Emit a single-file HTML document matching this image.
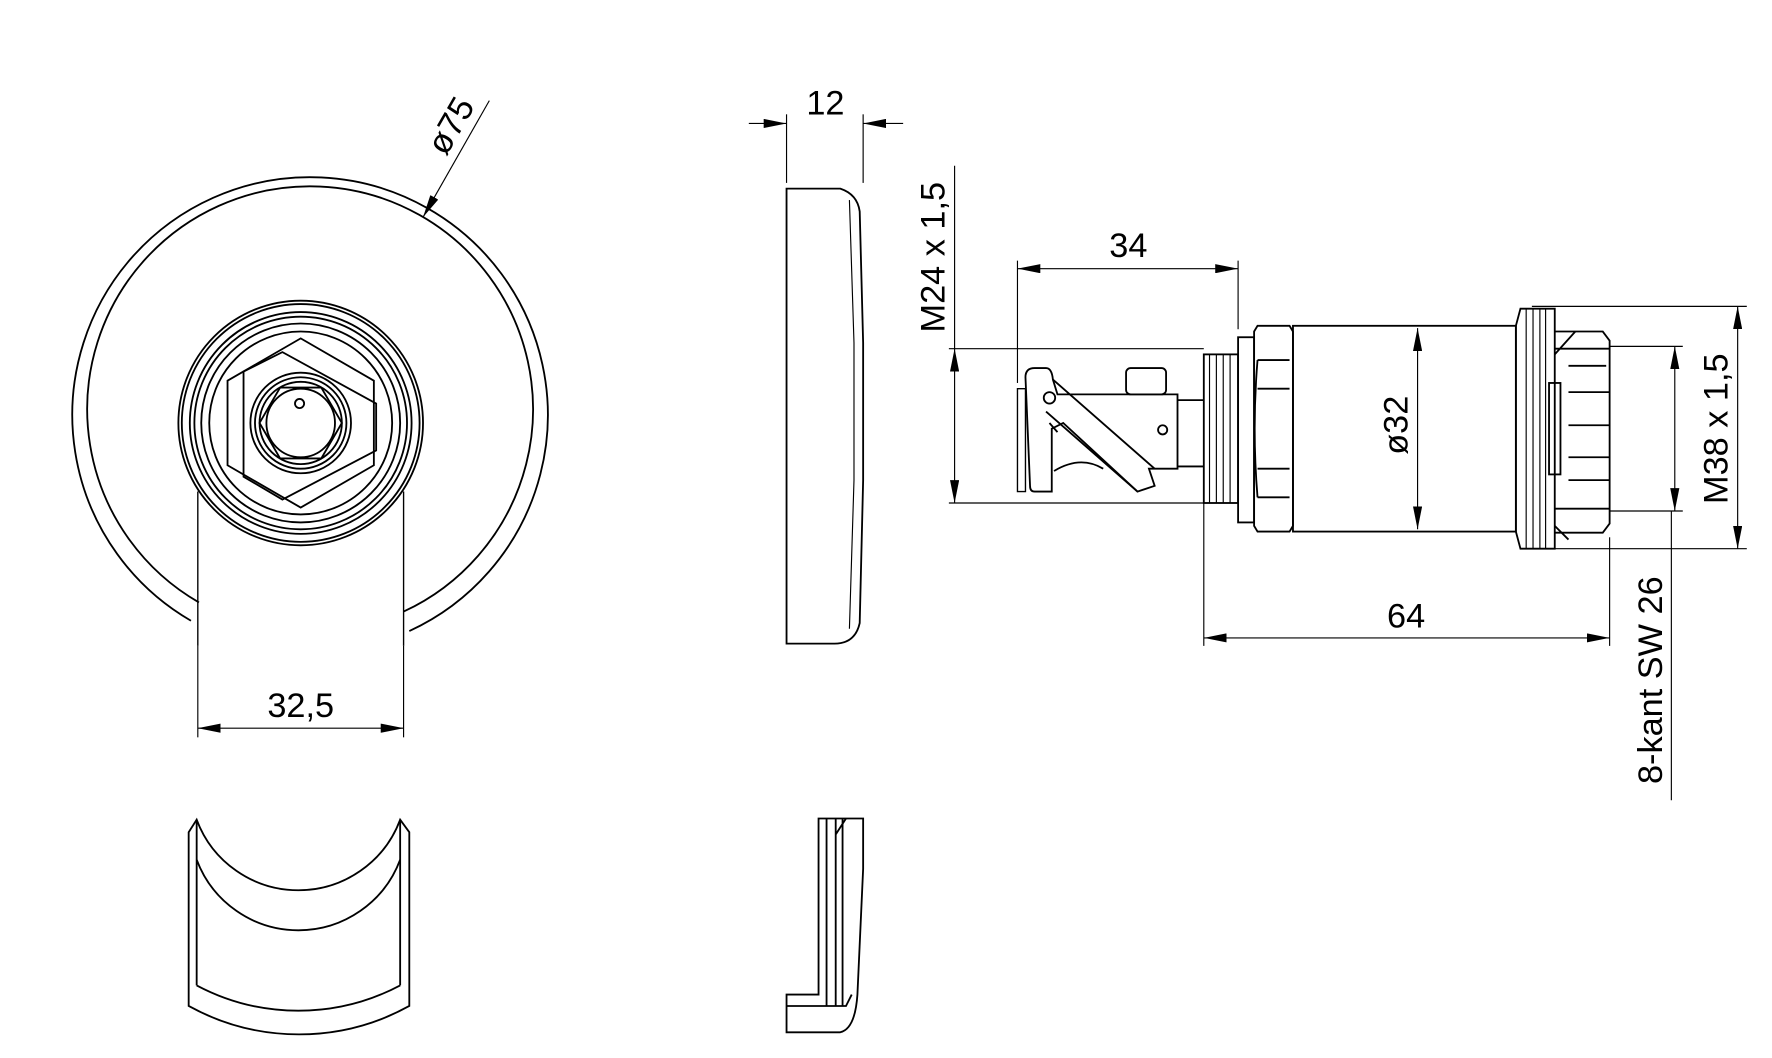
<!DOCTYPE html>
<html><head><meta charset="utf-8"><style>
html,body{margin:0;padding:0;background:#fff;}
svg{display:block;}
text{font-family:"Liberation Sans",Arial,sans-serif;fill:#000;}
</style></head><body>
<svg width="1772" height="1058" viewBox="0 0 1550 925.5" xmlns="http://www.w3.org/2000/svg">
<defs>
<marker id="a" viewBox="0 0 20 8" refX="20" refY="4" markerWidth="20" markerHeight="8" markerUnits="userSpaceOnUse" orient="auto-start-reverse"><path d="M0,0 L20,4 L0,8 z" fill="#000"/></marker>
</defs>
<g fill="none" stroke="#000" stroke-width="1.6">
<!-- Left front view disc -->
<path d="M167,543 A208,208 0 1 1 358,552"/>
<path d="M174,527 A195,195 0 1 1 353,535"/>
<line x1="173" y1="430" x2="173" y2="565" stroke-width="1.2"/>
<line x1="353" y1="430" x2="353" y2="565" stroke-width="1.2"/>
<!-- hub -->
<circle cx="263" cy="370" r="107"/>
<circle cx="263" cy="370" r="104"/>
<circle cx="263" cy="370" r="97"/>
<circle cx="263" cy="370" r="93"/>
<circle cx="263" cy="370" r="87"/>
<circle cx="263" cy="370" r="80"/>
<polygon points="263,296 327,333 327,407 263,444 199,407 199,333"/>
<polygon points="213,325 247,308 329,353 329,394 247,437 213,417"/>
<circle cx="263" cy="370" r="44"/>
<circle cx="263" cy="370" r="40"/>
<circle cx="263" cy="370" r="36"/>
<polygon points="227,370 245,339 281,339 299,370 281,401 245,401"/>
<circle cx="263" cy="370" r="30"/>
<circle cx="262" cy="353" r="4"/>
<!-- dim 32,5 -->
<line x1="173" y1="565" x2="173" y2="645" stroke-width="1"/>
<line x1="353" y1="565" x2="353" y2="645" stroke-width="1"/>
<line x1="173" y1="637" x2="353" y2="637" stroke-width="1" marker-start="url(#a)" marker-end="url(#a)"/>
<!-- Ø75 leader -->
<line x1="428" y1="88" x2="370" y2="190" stroke-width="1" marker-end="url(#a)"/>

<!-- Side view disc -->
<path d="M688,165 L735,165 Q750,170 752,185 L755,300 L755,420 L752,545 Q748,563 730,563 L688,563 Z"/>
<path d="M743,175 L747,300 L747,420 L743,550" stroke-width="1"/>
<!-- dim 12 -->
<line x1="688" y1="100" x2="688" y2="160" stroke-width="1"/>
<line x1="755" y1="100" x2="755" y2="160" stroke-width="1"/>
<line x1="655" y1="108" x2="688" y2="108" stroke-width="1" marker-end="url(#a)"/>
<line x1="790" y1="108" x2="755" y2="108" stroke-width="1" marker-end="url(#a)"/>

<!-- bottom U piece -->
<path d="M165,728 L172,717 A95,95 0 0 0 350,717 L358,728 L358,880 A200,200 0 0 1 165,880 Z"/>
<path d="M172,717 L172,862 M350,717 L350,862"/>
<path d="M172,752 A95,95 0 0 0 350,752"/>
<path d="M172,862 A190,190 0 0 0 350,862"/>
<!-- bottom side piece -->
<path d="M716,716 L755,716 L755,760 L750,870 Q748,900 735,903 L688,903 L688,870 L716,870 Z"/>
<path d="M723,716 L723,880 M731,716 L731,880 M737,716 L737,880 M731,730 L740,716 M688,880 L740,880 L745,870"/>

<!-- connector: clip -->
<path d="M890,340 L897,340 L897,430 L890,430 Z" stroke-width="1.2"/>
<path d="M897,330 Q897,322 905,322 L915,322 Q920,322 921,332 L925,345 L1030,345 L1030,410 L1005,410 L1010,425 L995,430 L930,370 L920,375 L920,430 L905,430 Q901,430 901,425 Z"/>
<path d="M921,332 L1010,410 M915,360 L995,430 M918,370 L925,378"/>
<path d="M922,412 Q945,398 965,410" />
<rect x="985" y="322" width="35" height="23" rx="4"/>
<circle cx="918" cy="348" r="5"/>
<circle cx="1017" cy="376" r="4"/>
<path d="M1030,350 L1053,350 M1030,408 L1053,408"/>
<!-- thread -->
<rect x="1053" y="310" width="30" height="130"/>
<path d="M1058,310 L1058,440 M1064,310 L1064,440 M1070,310 L1070,440 M1076,310 L1076,440" stroke-width="1"/>
<!-- flange + nut -->
<rect x="1083" y="295" width="14" height="162"/>
<path d="M1097,290 L1100,285 L1128,285 L1131,290 L1131,460 L1128,465 L1100,465 L1097,460 Z"/>
<path d="M1100,315 L1128,315 M1100,340 L1128,340 M1100,410 L1128,410 M1100,435 L1128,435 M1100,315 Q1095,375 1100,435"/>
<!-- body -->
<rect x="1131" y="285" width="195" height="180"/>
<!-- right thread -->
<path d="M1326,285 L1330,270 L1360,270 L1360,480 L1330,480 L1326,465 Z"/>
<path d="M1335,270 L1335,480 M1341,270 L1341,480 M1347,270 L1347,480 M1352,270 L1352,480" stroke-width="1"/>
<!-- 8-kant -->
<path d="M1360,290 L1402,290 L1408,298 L1408,458 L1402,466 L1360,466"/>
<path d="M1360,305 L1408,305 M1372,320 L1405,320 M1372,343 L1408,343 M1372,372 L1408,372 M1372,400 L1408,400 M1372,420 L1408,420 M1360,445 L1408,445 M1360,310 L1378,290 M1360,460 L1372,472"/>
<rect x="1355" y="335" width="10" height="80"/>
<!-- dims connector -->
<g stroke-width="1">
<line x1="835" y1="145" x2="835" y2="305"/>
<line x1="830" y1="305" x2="1053" y2="305"/>
<line x1="830" y1="440" x2="1053" y2="440"/>
<line x1="835" y1="305" x2="835" y2="440" marker-start="url(#a)" marker-end="url(#a)"/>
<line x1="890" y1="228" x2="890" y2="335"/>
<line x1="1083" y1="228" x2="1083" y2="288"/>
<line x1="890" y1="235" x2="1083" y2="235" marker-start="url(#a)" marker-end="url(#a)"/>
<line x1="1240" y1="287" x2="1240" y2="463" marker-start="url(#a)" marker-end="url(#a)"/>
<line x1="1053" y1="440" x2="1053" y2="565"/>
<line x1="1408" y1="470" x2="1408" y2="565"/>
<line x1="1053" y1="558" x2="1408" y2="558" marker-start="url(#a)" marker-end="url(#a)"/>
<line x1="1408" y1="303" x2="1472" y2="303"/>
<line x1="1408" y1="447" x2="1472" y2="447"/>
<line x1="1465" y1="303" x2="1465" y2="447" marker-start="url(#a)" marker-end="url(#a)"/>
<line x1="1340" y1="268" x2="1528" y2="268"/>
<line x1="1360" y1="480" x2="1528" y2="480"/>
<line x1="1520" y1="268" x2="1520" y2="480" marker-start="url(#a)" marker-end="url(#a)"/>
<line x1="1462" y1="447" x2="1462" y2="700"/>
</g>
</g>
<g font-size="30">
<text x="263" y="627" text-anchor="middle">32,5</text>
<text x="722" y="100" text-anchor="middle">12</text>
<text x="987" y="225" text-anchor="middle">34</text>
<text x="1230" y="549" text-anchor="middle">64</text>
<text transform="translate(403,115) rotate(-60)" text-anchor="middle">ø75</text>
<text transform="translate(826,225) rotate(-90)" text-anchor="middle">M24 x 1,5</text>
<text transform="translate(1231,372) rotate(-90)" text-anchor="middle">ø32</text>
<text transform="translate(1511,375) rotate(-90)" text-anchor="middle">M38 x 1,5</text>
<text transform="translate(1454,595) rotate(-90)" text-anchor="middle">8-kant SW 26</text>
</g>
</svg>
</body></html>
